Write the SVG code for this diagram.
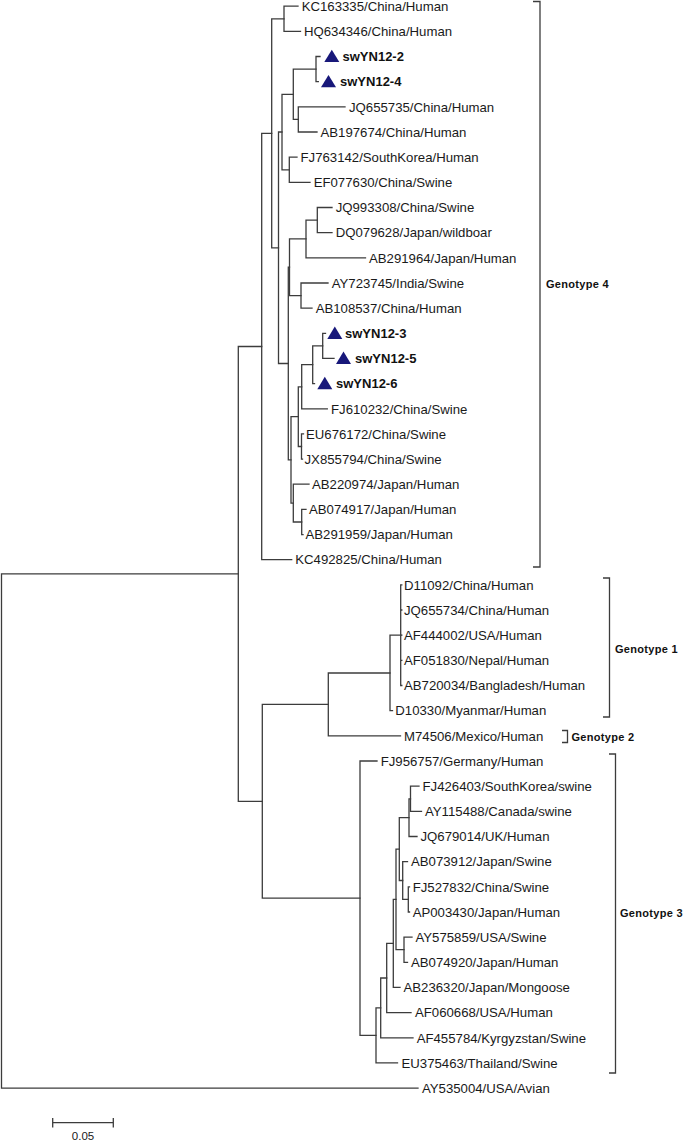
<svg xmlns="http://www.w3.org/2000/svg" width="685" height="1140" viewBox="0 0 685 1140">
<style>
.b{stroke:#3c3c3c;stroke-width:1.3;fill:none;stroke-linecap:square}
.t{font-family:"Liberation Sans",Arial,sans-serif;font-size:13.2px;fill:#1a1a1a}
.s{font-family:"Liberation Sans",Arial,sans-serif;font-size:13px;font-weight:bold;fill:#111}
.g{font-family:"Liberation Sans",Arial,sans-serif;font-size:11px;font-weight:bold;letter-spacing:0.3px;fill:#111}
.tri{fill:#18187a}
.k{stroke:#3c3c3c;stroke-width:1.3;fill:none}
</style>
<rect width="685" height="1140" fill="#fff"/>
<g id="connectors" class="b">
<path d="M1.5 573.9V1088.1M1.5 573.9H238.3M1.5 1088.1H418"/>
<path d="M238.3 346.5V801.3M238.3 346.5H261.7M238.3 801.3H262.3"/>
<path d="M261.7 133.3V559.7M261.7 133.3H271.7M261.7 559.7H291.7"/>
<path d="M271.7 18.8V247.8M271.7 18.8H284M271.7 247.8H278.5"/>
<path d="M284 6.2V31.4M284 6.2H298M284 31.4H300.5"/>
<path d="M278.5 132V363.5M278.5 132H282M278.5 363.5H288.3"/>
<path d="M282 94.3V169.8M282 94.3H293.3M282 169.8H289.3"/>
<path d="M293.3 69.1V119.4M293.3 69.1H316M293.3 119.4H298.3"/>
<path d="M316 56.5V81.7M316 56.5H320M316 81.7H318.3"/>
<path d="M298.3 106.8V132M298.3 106.8H345M298.3 132H317"/>
<path d="M289.3 157.2V182.3M289.3 157.2H297M289.3 182.3H310"/>
<path d="M288.3 267.2V459.9M288.3 267.2H289.5M288.3 459.9H291"/>
<path d="M289.5 238.9V295.6M289.5 238.9H306M289.5 295.6H301"/>
<path d="M306 220.1V257.8M306 220.1H317.3M306 257.8H365.5"/>
<path d="M317.3 207.5V232.6M317.3 207.5H332M317.3 232.6H332"/>
<path d="M301 283V308.1M301 283H328M301 308.1H312"/>
<path d="M291 416.6V503.1M291 416.6H298.3M291 503.1H293.3"/>
<path d="M298.3 386.8V446.5M298.3 386.8H301.7M298.3 446.5H301.5"/>
<path d="M301.7 364.7V408.8M301.7 364.7H312.7M301.7 408.8H327.3"/>
<path d="M312.7 345.9V383.6M312.7 345.9H322.7M312.7 383.6H314.5"/>
<path d="M322.7 333.3V358.4M322.7 333.3H325.5M322.7 358.4H334"/>
<path d="M301.5 433.9V459.1M301.5 433.9H303.5M301.5 459.1H302.5"/>
<path d="M293.3 484.2V522M293.3 484.2H309M293.3 522H301.7"/>
<path d="M301.7 509.4V534.6M301.7 509.4H306M301.7 534.6H303"/>
<path d="M262.3 704.4V898.2M262.3 704.4H328.3M262.3 898.2H360"/>
<path d="M328.3 673V735.8M328.3 673H390M328.3 735.8H400.5"/>
<path d="M390 635.2V710.7M390 635.2H400.7M390 710.7H392.5"/>
<path d="M400.7 584.9V685.5M400.7 584.9H401.8M400.7 610H401.8M400.7 635.2H401.8M400.7 660.4H401.8M400.7 685.5H401.8"/>
<path d="M360 761V1035.4M360 761H377M360 1035.4H376"/>
<path d="M376 1007.9V1062.9M376 1007.9H380.7M376 1062.9H397.5"/>
<path d="M380.7 978V1037.8M380.7 978H386.7M380.7 1037.8H413"/>
<path d="M386.7 943.4V1012.6M386.7 943.4H393.3M386.7 1012.6H411"/>
<path d="M393.3 899.4V987.4M393.3 899.4H396M393.3 987.4H400"/>
<path d="M396 849.1V949.7M396 849.1H399.3M396 949.7H404"/>
<path d="M399.3 817.6V880.5M399.3 817.6H409M399.3 880.5H402.7"/>
<path d="M409 798.8V836.5M409 798.8H410.5M409 836.5H417"/>
<path d="M410.5 786.2V811.3M410.5 786.2H419M410.5 811.3H421.5"/>
<path d="M402.7 861.6V899.4M402.7 861.6H407.5M402.7 899.4H408.3"/>
<path d="M408.3 886.8V912M408.3 886.8H409.5M408.3 912H409.5"/>
<path d="M404 937.1V962.3M404 937.1H412M404 962.3H407.5"/>
</g>
<g id="leaves">
<g id="KC163335"><text class="t" x="301.7" y="10.9">KC163335/China/Human</text></g>
<g id="HQ634346"><text class="t" x="304" y="36.1">HQ634346/China/Human</text></g>
<g id="swYN12-2"><polygon class="tri" points="324.3,62.1 339.3,62.1 331.8,49.7"/><text class="s" x="342.5" y="61.2">swYN12-2</text></g>
<g id="swYN12-4"><polygon class="tri" points="321,87.3 336,87.3 328.5,74.9"/><text class="s" x="340" y="86.4">swYN12-4</text></g>
<g id="JQ655735"><text class="t" x="349" y="111.5">JQ655735/China/Human</text></g>
<g id="AB197674"><text class="t" x="320.5" y="136.7">AB197674/China/Human</text></g>
<g id="FJ763142"><text class="t" x="300.5" y="161.9">FJ763142/SouthKorea/Human</text></g>
<g id="EF077630"><text class="t" x="313.7" y="187">EF077630/China/Swine</text></g>
<g id="JQ993308"><text class="t" x="335.7" y="212.2">JQ993308/China/Swine</text></g>
<g id="DQ079628"><text class="t" x="335.7" y="237.3">DQ079628/Japan/wildboar</text></g>
<g id="AB291964"><text class="t" x="369" y="262.5">AB291964/Japan/Human</text></g>
<g id="AY723745"><text class="t" x="331.7" y="287.7">AY723745/India/Swine</text></g>
<g id="AB108537"><text class="t" x="315.7" y="312.8">AB108537/China/Human</text></g>
<g id="swYN12-3"><polygon class="tri" points="327.3,338.9 342.3,338.9 334.8,326.5"/><text class="s" x="345" y="338">swYN12-3</text></g>
<g id="swYN12-5"><polygon class="tri" points="336,364 351,364 343.5,351.6"/><text class="s" x="355" y="363.1">swYN12-5</text></g>
<g id="swYN12-6"><polygon class="tri" points="317.3,389.2 332.3,389.2 324.8,376.8"/><text class="s" x="336" y="388.3">swYN12-6</text></g>
<g id="FJ610232"><text class="t" x="331" y="413.5">FJ610232/China/Swine</text></g>
<g id="EU676172"><text class="t" x="306" y="438.6">EU676172/China/Swine</text></g>
<g id="JX855794"><text class="t" x="304.5" y="463.8">JX855794/China/Swine</text></g>
<g id="AB220974"><text class="t" x="312" y="488.9">AB220974/Japan/Human</text></g>
<g id="AB074917"><text class="t" x="309" y="514.1">AB074917/Japan/Human</text></g>
<g id="AB291959"><text class="t" x="305.5" y="539.3">AB291959/Japan/Human</text></g>
<g id="KC492825"><text class="t" x="295.3" y="564.4">KC492825/China/Human</text></g>
<g id="D11092"><text class="t" x="404" y="589.6">D11092/China/Human</text></g>
<g id="JQ655734"><text class="t" x="404" y="614.7">JQ655734/China/Human</text></g>
<g id="AF444002"><text class="t" x="404" y="639.9">AF444002/USA/Human</text></g>
<g id="AF051830"><text class="t" x="404" y="665.1">AF051830/Nepal/Human</text></g>
<g id="AB720034"><text class="t" x="404" y="690.2">AB720034/Bangladesh/Human</text></g>
<g id="D10330"><text class="t" x="395.3" y="715.4">D10330/Myanmar/Human</text></g>
<g id="M74506"><text class="t" x="404" y="740.5">M74506/Mexico/Human</text></g>
<g id="FJ956757"><text class="t" x="380.7" y="765.7">FJ956757/Germany/Human</text></g>
<g id="FJ426403"><text class="t" x="422.5" y="790.9">FJ426403/SouthKorea/swine</text></g>
<g id="AY115488"><text class="t" x="425" y="816">AY115488/Canada/swine</text></g>
<g id="JQ679014"><text class="t" x="420.5" y="841.2">JQ679014/UK/Human</text></g>
<g id="AB073912"><text class="t" x="411" y="866.3">AB073912/Japan/Swine</text></g>
<g id="FJ527832"><text class="t" x="412.7" y="891.5">FJ527832/China/Swine</text></g>
<g id="AP003430"><text class="t" x="412.7" y="916.7">AP003430/Japan/Human</text></g>
<g id="AY575859"><text class="t" x="415.5" y="941.8">AY575859/USA/Swine</text></g>
<g id="AB074920"><text class="t" x="411" y="967">AB074920/Japan/Human</text></g>
<g id="AB236320"><text class="t" x="403.5" y="992.1">AB236320/Japan/Mongoose</text></g>
<g id="AF060668"><text class="t" x="415" y="1017.3">AF060668/USA/Human</text></g>
<g id="AF455784"><text class="t" x="416.7" y="1042.5">AF455784/Kyrgyzstan/Swine</text></g>
<g id="EU375463"><text class="t" x="401.5" y="1067.6">EU375463/Thailand/Swine</text></g>
<g id="AY535004"><text class="t" x="422" y="1092.8">AY535004/USA/Avian</text></g>
</g>
<g id="genotype4"><path class="k" d="M533 1.5H540V567H533"/><text class="g" x="546" y="288">Genotype 4</text></g>
<g id="genotype1"><path class="k" d="M603 578H609.5V717H603"/><text class="g" x="615" y="653">Genotype 1</text></g>
<g id="genotype2"><path class="k" d="M562 730.5H567.5V742.5H562"/><text class="g" x="571.5" y="741">Genotype 2</text></g>
<g id="genotype3"><path class="k" d="M609 754H615.5V1073H609"/><text class="g" x="620" y="917">Genotype 3</text></g>
<g id="scalebar"><path class="k" d="M52.7 1122.7H113.3M52.7 1118V1127.4M113.3 1118V1127.4"/><text class="t" x="83" y="1139.5" text-anchor="middle" style="font-size:11.5px">0.05</text></g>
</svg>
